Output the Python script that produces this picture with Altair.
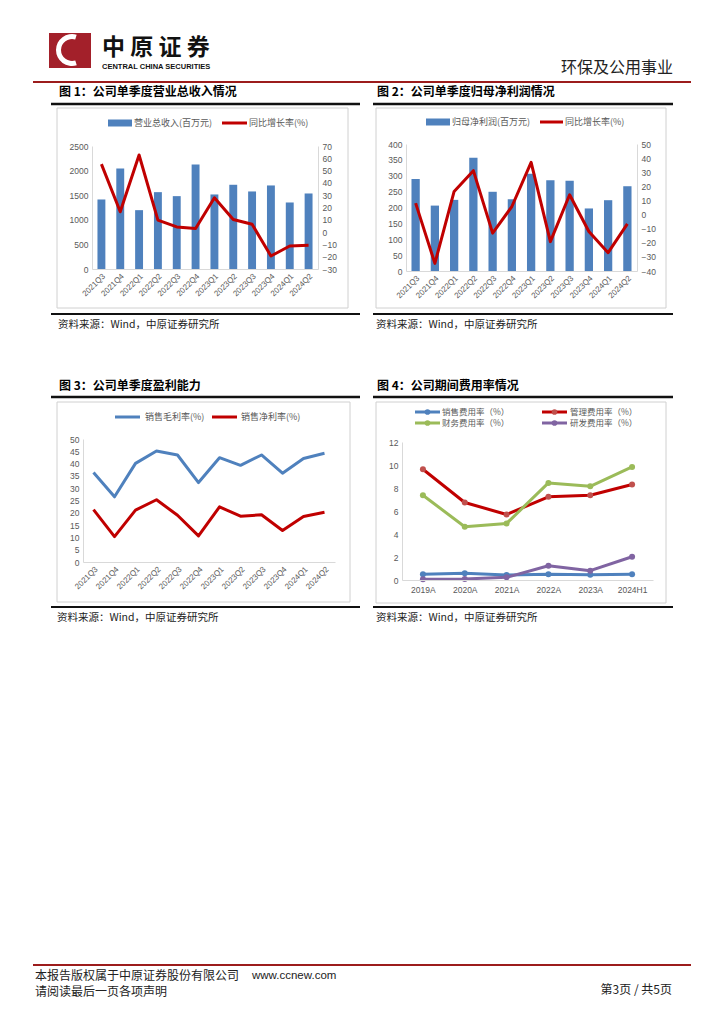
import altair as alt
import pandas as pd

# ---------------- data ----------------
quarters = ["2021Q3", "2021Q4", "2022Q1", "2022Q2", "2022Q3", "2022Q4",
            "2023Q1", "2023Q2", "2023Q3", "2023Q4", "2024Q1", "2024Q2"]
revenue = [1413, 2045, 1196, 1562, 1481, 2126, 1515, 1712, 1576, 1698, 1352, 1535]
revenue_yoy = [55.3, 16.5, 62.7, 9.7, 4.2, 2.9, 27.9, 10.2, 6.4, -19.4, -11.3, -10.7]
profit = [289.5, 206, 224, 357, 249.5, 226, 306, 286, 284, 197, 223, 267]
profit_yoy = [8.1, -34.6, 16.4, 31.1, -13.2, 5.7, 37.0, -19.2, 14.0, -12.0, -27.0, -6.6]
gross_margin = [36.4, 26.5, 40.1, 45.1, 43.5, 32.3, 42.4, 39.3, 43.5, 36.1, 42.1, 44.2]
net_margin = [21.3, 10.3, 21.1, 25.3, 19.0, 10.6, 22.4, 18.6, 19.2, 12.8, 18.5, 20.2]
years = ["2019A", "2020A", "2021A", "2022A", "2023A", "2024H1"]
sales_exp = [0.49, 0.58, 0.43, 0.49, 0.46, 0.49]
admin_exp = [9.63, 6.74, 5.70, 7.23, 7.37, 8.30]
fin_exp = [7.37, 4.63, 4.92, 8.44, 8.15, 9.83]
rd_exp = [0.06, 0.09, 0.23, 1.24, 0.81, 2.02]

legend1 = ["营业总收入(百万元)", "同比增长率(%)"]
legend2 = ["归母净利润(百万元)", "同比增长率(%)"]
legend3 = ["销售毛利率(%)", "销售净利率(%)"]
legend4 = ["销售费用率（%）", "管理费用率（%）", "财务费用率（%）", "研发费用率（%）"]
fig_titles = ["图 1：公司单季度营业总收入情况", "图 2：公司单季度归母净利润情况",
              "图 3：公司单季度盈利能力", "图 4：公司期间费用率情况"]
source_text = "资料来源：Wind，中原证券研究所"
header_texts = ["中 原 证 券", "CENTRAL CHINA SECURITIES", "环保及公用事业"]
footer_texts = ["本报告版权属于中原证券股份有限公司", "www.ccnew.com",
                "请阅读最后一页各项声明", "第3页 / 共5页"]

# ---------------- style ----------------
ONE = pd.DataFrame({"k": [0]})
CJK = "Noto Sans CJK SC"
LAT = "Liberation Sans"
BLUE = "#4f81bd"
RED = "#c00000"
RED_M = "#c0504d"
GREEN = "#9bbb59"
PURPLE = "#8064a2"
GTXT = "#595959"
ALINE = "#d9d9d9"
DARKRED = "#9c1c1c"


def txt(t, x, y, size=10, weight="normal", color="#000000", align="left", font=CJK):
    return alt.Chart(ONE).mark_text(text=t, fontSize=size, fontWeight=weight, color=color,
                                    align=align, baseline="middle", font=font).encode(
        x=alt.value(x), y=alt.value(y))


def hrule(x1, x2, y, color, width):
    return alt.Chart(ONE).mark_rule(color=color, strokeWidth=width).encode(
        x=alt.value(x1), x2=alt.value(x2), y=alt.value(y))


def box(x1, x2, y1, y2):
    return alt.Chart(ONE).mark_rect(fillOpacity=0, stroke="#d0d0d0", strokeWidth=1).encode(
        x=alt.value(x1), x2=alt.value(x2), y=alt.value(y1), y2=alt.value(y2))


def filled_rect(x1, x2, y1, y2, color):
    return alt.Chart(ONE).mark_rect(color=color).encode(
        x=alt.value(x1), x2=alt.value(x2), y=alt.value(y1), y2=alt.value(y2))


def dot(x, y, color, size=32):
    return alt.Chart(ONE).mark_point(filled=True, shape="circle", size=size, color=color, opacity=1).encode(
        x=alt.value(x), y=alt.value(y))


def spacer(w, h):
    return alt.Chart(ONE).mark_point(opacity=0).encode(x=alt.value(0), y=alt.value(0)).properties(width=w, height=h)


def y_axis(values, orient="left", offset=0):
    return alt.Axis(values=values, orient=orient, title=None, labelFont=LAT, labelFontSize=8.5,
                    labelColor=GTXT, domainColor=ALINE, ticks=False, grid=False, labelPadding=4,
                    offset=offset, zindex=1, format="d")


def x_axis(angle):
    return alt.Axis(title=None, labelAngle=angle, labelFont=LAT, labelFontSize=8, labelColor=GTXT,
                    domainColor=ALINE, ticks=False, grid=False, labelPadding=3, zindex=1)


# ---------------- chart 1 (cell origin = page 83,144) ----------------
W1, H1 = 235, 125
df1 = pd.DataFrame({"q": quarters, "v": revenue, "r": revenue_yoy})
x1 = alt.X("q:N", sort=quarters, title=None,
           scale=alt.Scale(paddingInner=0.58, paddingOuter=0.29, range=[9, 235]),
           axis=x_axis(-45))
bars1 = alt.Chart(df1).mark_bar(color=BLUE).encode(
    x=x1, y=alt.Y("v:Q", scale=alt.Scale(domain=[0, 2500], nice=False, range=[H1, 2]),
                  axis=y_axis(list(range(0, 2501, 500)), offset=-9)))
line1 = alt.Chart(df1).mark_line(color=RED, strokeWidth=3, strokeJoin="round").encode(
    x=x1, y=alt.Y("r:Q", scale=alt.Scale(domain=[-30, 70], nice=False, range=[H1, 2]),
                  axis=y_axis(list(range(-30, 71, 10)), "right")))
header_layers = [
    filled_rect(-34, 8, -111, -76, "#a3202a"),
    alt.Chart(ONE).mark_arc(theta=2.84, theta2=6.58, radius=16, radius2=11, color="white").encode(
        x=alt.value(-11), y=alt.value(-94)),
    txt(header_texts[0], 19, -96, size=23, weight="bold", color="#111111"),
    txt(header_texts[1], 19, -77.5, size=7.5, weight="bold", color="#111111", font=LAT),
    txt(header_texts[2], 590, -76, size=16, color="#222222", align="right"),
    hrule(-50, 608, -62, DARKRED, 2),
]
chart1 = alt.layer(
    # white page anchor: fixes the page's top-left corner (8,8) to this cell
    filled_rect(-75, 633, -136, 864, "#ffffff"),
    *header_layers,
    box(-26, 265, -36, 164),
    bars1, line1,
    txt(fig_titles[0], -24, -52, size=12, weight="bold"),
    hrule(-32, 277, -40, "#111111", 2.5),
    hrule(-32, 277, 170, "#111111", 2),
    txt(source_text, -25, 181, size=10.5, color="#222222"),
    filled_rect(25, 49, -24.5, -17.5, BLUE),
    txt(legend1[0], 51, -21, size=9, color=GTXT),
    hrule(139, 164, -21, RED, 3),
    txt(legend1[1], 166, -21, size=9, color=GTXT),
).resolve_scale(y="independent").properties(width=W1, height=H1)

# ---------------- chart 2 (cell origin = page 402,144) ----------------
W2, H2 = 235, 127
df2 = pd.DataFrame({"q": quarters, "v": profit, "r": profit_yoy})
x2 = alt.X("q:N", sort=quarters, title=None,
           scale=alt.Scale(paddingInner=0.57, paddingOuter=0.285, range=[4, 235]),
           axis=x_axis(-45))
bars2 = alt.Chart(df2).mark_bar(color=BLUE).encode(
    x=x2, y=alt.Y("v:Q", scale=alt.Scale(domain=[0, 400], nice=False),
                  axis=y_axis(list(range(0, 401, 50)), offset=-4)))
line2 = alt.Chart(df2).mark_line(color=RED, strokeWidth=3, strokeJoin="round").encode(
    x=x2, y=alt.Y("r:Q", scale=alt.Scale(domain=[-40, 50], nice=False),
                  axis=y_axis(list(range(-40, 51, 10)), "right")))
chart2 = alt.layer(
    box(-26, 264, -36, 164),
    bars2, line2,
    txt(fig_titles[1], -25, -52, size=12, weight="bold"),
    hrule(-29, 271, -40, "#111111", 2.5),
    hrule(-29, 271, 170, "#111111", 2),
    txt(source_text, -26, 181, size=10.5, color="#222222"),
    filled_rect(24, 48, -25.5, -18.5, BLUE),
    txt(legend2[0], 50, -22, size=9, color=GTXT),
    hrule(138, 161, -22, RED, 3),
    txt(legend2[1], 163, -22, size=9, color=GTXT),
).resolve_scale(y="independent").properties(width=W2, height=H2)

# ---------------- chart 3 (cell origin = page 83,439) ----------------
W3, H3 = 252, 123
df3 = pd.DataFrame({
    "q": quarters * 2,
    "s": [legend3[0]] * len(quarters) + [legend3[1]] * len(quarters),
    "v": gross_margin + net_margin,
})
lines3 = alt.Chart(df3).mark_line(strokeWidth=3, strokeJoin="round").encode(
    x=alt.X("q:N", sort=quarters, title=None, axis=x_axis(-45)),
    y=alt.Y("v:Q", scale=alt.Scale(domain=[0, 50], nice=False), axis=y_axis(list(range(0, 51, 5)))),
    color=alt.Color("s:N", scale=alt.Scale(domain=legend3, range=[BLUE, RED]), legend=None),
)
footer_layers = [
    hrule(-50, 608, 526, DARKRED, 2),
    txt(footer_texts[0], -48, 537, size=12, color="#222222"),
    txt(footer_texts[1], 169, 537, size=11.5, color="#222222", font=LAT),
    txt(footer_texts[2], -48, 553, size=12, color="#222222"),
    txt(footer_texts[3], 589, 551, size=12, color="#222222", align="right"),
]
chart3 = alt.layer(
    box(-26, 267, -37, 163),
    lines3,
    txt(fig_titles[2], -24, -53, size=12, weight="bold"),
    hrule(-32, 277, -42, "#111111", 2.5),
    hrule(-32, 277, 168, "#111111", 2),
    txt(source_text, -26, 179, size=10.5, color="#222222"),
    hrule(32, 57, -22, BLUE, 3),
    txt(legend3[0], 62, -22, size=9, color=GTXT),
    hrule(129, 154, -22, RED, 3),
    txt(legend3[1], 158, -22, size=9, color=GTXT),
    *footer_layers,
).properties(width=W3, height=H3)

# ---------------- chart 4 (cell origin = page 402,439) ----------------
W4, H4 = 251, 141
df4 = pd.DataFrame({
    "y": years * 4,
    "s": sum([[name] * len(years) for name in legend4], []),
    "v": sales_exp + admin_exp + fin_exp + rd_exp,
})
x4 = alt.X("y:N", sort=years, title=None,
           axis=alt.Axis(title=None, labelAngle=0, labelFont=LAT, labelFontSize=8.5, labelColor=GTXT,
                         domainColor=ALINE, ticks=False, grid=False, labelPadding=5, zindex=1))
y4 = alt.Y("v:Q", scale=alt.Scale(domain=[0, 12], nice=False, range=[H4, 3]),
           axis=y_axis(list(range(0, 13, 2))))
lines4 = alt.Chart(df4).mark_line(strokeWidth=3, strokeJoin="round").encode(
    x=x4, y=y4,
    color=alt.Color("s:N", scale=alt.Scale(domain=legend4, range=[BLUE, RED, GREEN, PURPLE]), legend=None))
pts4 = alt.Chart(df4).mark_point(filled=True, shape="circle", size=36, opacity=1).encode(
    x=x4, y=y4,
    color=alt.Color("s:N", scale=alt.Scale(domain=legend4, range=[BLUE, RED_M, GREEN, PURPLE]), legend=None))
chart4 = alt.layer(
    box(-26, 264, -37, 164),
    lines4, pts4,
    txt(fig_titles[3], -25, -53, size=12, weight="bold"),
    hrule(-29, 271, -42, "#111111", 2.5),
    hrule(-29, 271, 168, "#111111", 2),
    txt(source_text, -26, 179, size=10.5, color="#222222"),
    hrule(13, 38, -27, BLUE, 3), dot(25.5, -27, BLUE),
    txt(legend4[0], 40, -27, size=8.5, color=GTXT),
    hrule(140, 165, -27, RED, 3), dot(152.5, -27, RED_M),
    txt(legend4[1], 168, -27, size=8.5, color=GTXT),
    hrule(13, 38, -16, GREEN, 3), dot(25.5, -16, GREEN),
    txt(legend4[2], 40, -16, size=8.5, color=GTXT),
    hrule(140, 165, -16, PURPLE, 3), dot(152.5, -16, PURPLE),
    txt(legend4[3], 168, -16, size=8.5, color=GTXT),
).resolve_scale(color="independent").properties(width=W4, height=H4)

cells = [chart1, spacer(67, 1), chart2,
         chart3, spacer(67, 1), chart4]

chart = alt.concat(*cells, columns=3, spacing={"row": 168, "column": 0}, bounds="flush",
                   align="each", padding=0).configure_view(stroke=None)

chart.save("out.html", embed_options={"renderer": "svg", "actions": False})
